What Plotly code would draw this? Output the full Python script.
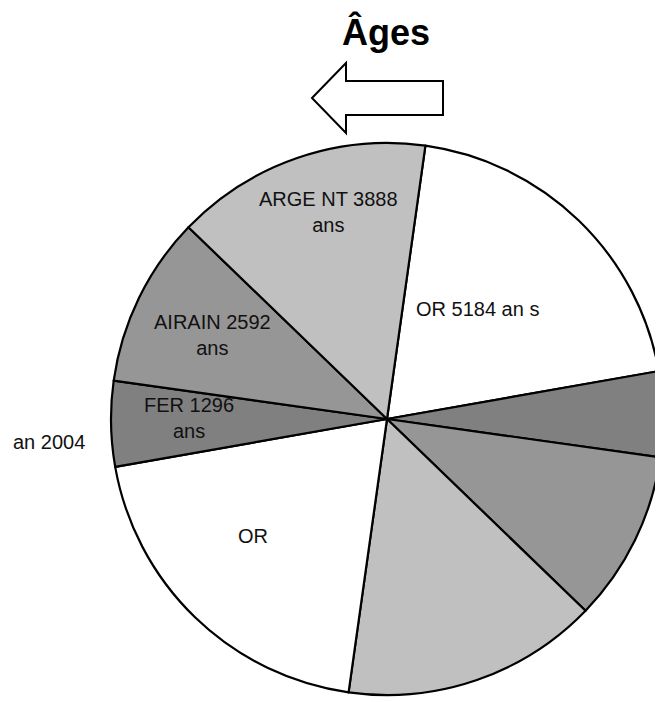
import plotly.graph_objects as go

# The page body adds an 8 px offset; the figure is sized to fill the rest of the window.
OFF = 8
W, H = 663 - OFF, 702 - OFF

# ---- data ----
ages = ["OR", "FER", "AIRAIN", "ARGENT", "OR", "FER", "AIRAIN", "ARGENT"]
years = [5184, 1296, 2592, 3888, 5184, 1296, 2592, 3888]
slice_colors = ["#FFFFFF", "#808080", "#969696", "#C0C0C0",
                "#FFFFFF", "#808080", "#969696", "#C0C0C0"]
title_text = "Âges"
label_texts = ["OR 5184 an s", "ARGE NT 3888<br>ans", "AIRAIN 2592<br>ans",
               "FER 1296<br>ans", "OR", "an 2004"]
# label centres in screen pixels
label_px = [(477, 309), (328, 212), (212, 335), (189, 418), (253, 536), (49, 442)]


def px(x, y):
    """screen pixel -> paper coordinates"""
    return (x - OFF) / W, 1 - (y - OFF) / H


fig = go.Figure()

cx, cy, r = 387, 419, 276
x0, y1 = px(cx - r, cy - r)
x1, y0 = px(cx + r, cy + r)
fig.add_trace(go.Pie(
    labels=[f"{a} {i}" for i, a in enumerate(ages)],
    values=years,
    sort=False,
    direction="clockwise",
    rotation=8,
    marker=dict(colors=slice_colors, line=dict(color="black", width=2.2)),
    textinfo="none",
    hoverinfo="label+value",
    showlegend=False,
    domain=dict(x=[max(0, x0), min(1.0, x1)], y=[max(0, y0), min(1.0, y1)]),
))

annotations = []
for t, (x, y) in zip(label_texts, label_px):
    ax, ay = px(x, y)
    annotations.append(dict(x=ax, y=ay, xref="paper", yref="paper", text=t,
                            showarrow=False, xanchor="center", yanchor="middle",
                            font=dict(family="Arial, Liberation Sans", size=20, color="#111111")))

tx, ty = px(386, 32)
annotations.append(dict(x=tx, y=ty, xref="paper", yref="paper", text="<b>" + title_text + "</b>",
                        showarrow=False, xanchor="center", yanchor="middle",
                        font=dict(family="Arial, Liberation Sans", size=36, color="black")))

arrow_pts = [(312, 98), (346, 63), (346, 81), (443, 81), (443, 115), (346, 115), (346, 133)]
path = "M " + " L ".join(f"{px(x, y)[0]:.5f},{px(x, y)[1]:.5f}" for x, y in arrow_pts) + " Z"

fig.update_layout(
    width=W, height=H,
    margin=dict(l=0, r=0, t=0, b=0),
    paper_bgcolor="white",
    plot_bgcolor="white",
    annotations=annotations,
    shapes=[dict(type="path", xref="paper", yref="paper", path=path,
                 line=dict(color="black", width=2), fillcolor="white")],
)

fig.write_html("out.html")
